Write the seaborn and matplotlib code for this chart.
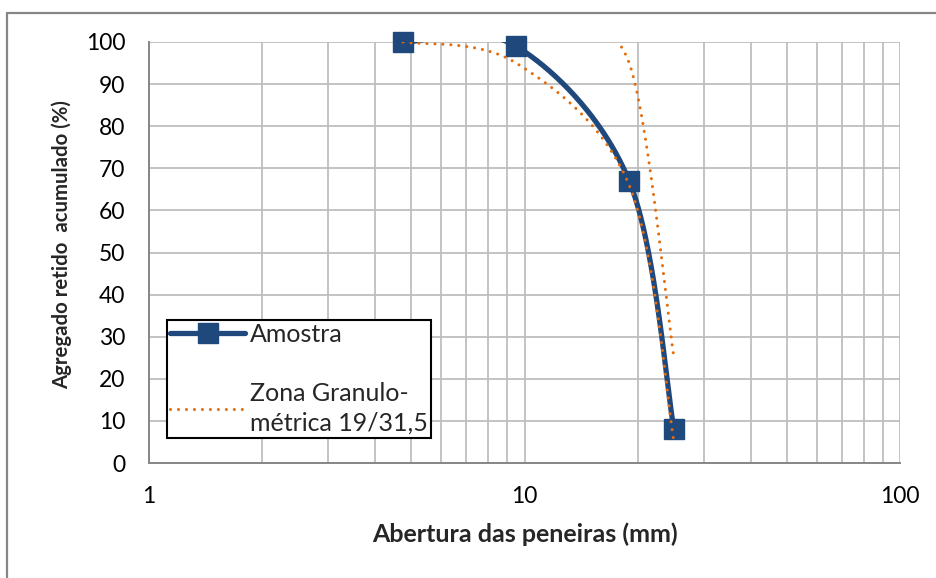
import numpy as np
import matplotlib
matplotlib.use("Agg")
import matplotlib.pyplot as plt
import seaborn as sns
import pandas as pd
from matplotlib.lines import Line2D
from matplotlib.patches import Rectangle
from matplotlib.ticker import FixedLocator, NullFormatter, FixedFormatter

# ---- data ----
sieve_sample = [4.75, 9.5, 19.0, 25.0]
retained_sample = [100, 99, 67, 8]
zone_lower_sieve = [4.75, 9.5, 19.0, 25.0]
zone_lower_retained = [100, 95, 66, 5]
zone_upper_sieve = [9.5, 12.5, 19.0, 25.0]
zone_upper_retained = [100, 100, 95, 25]
x_tick_values = [1, 10, 100]
x_tick_labels = ["1", "10", "100"]
y_tick_values = list(range(0, 101, 10))
series_names = ["Amostra", "Zona Granulo-\nmétrica 19/31,5"]

BLUE = "#1F497D"
ORANGE = "#E46C0A"
GRID = "#BEBEBE"
AXIS = "#868686"

sns.set_theme(style="white")
plt.rcParams["font.family"] = ["Lato", "DejaVu Sans"]

W, H = 936, 578
fig = plt.figure(figsize=(W / 100, H / 100), dpi=100)
left, right, top, bottom = 149, 900, 42, 463
ax = fig.add_axes([left / W, 1 - bottom / H, (right - left) / W, (bottom - top) / H])

PX_DEC = (right - left) / 2.0
PX_UNIT = (bottom - top) / 100.0


def smooth_curve(xs, ys, n=80):
    """Excel-like smoothed line (Catmull-Rom Bezier) in display-like space."""
    P = np.column_stack([np.log10(xs) * PX_DEC, np.asarray(ys, float) * PX_UNIT])
    out = []
    m = len(P)
    t = np.linspace(0, 1, n)[:, None]
    for i in range(m - 1):
        p0 = P[i - 1] if i > 0 else P[i]
        p3 = P[i + 2] if i + 2 < m else P[i + 1]
        b0, b3 = P[i], P[i + 1]
        b1 = b0 + (b3 - p0) / 6.0
        b2 = b3 - (p3 - b0) / 6.0
        seg = ((1 - t) ** 3) * b0 + 3 * ((1 - t) ** 2) * t * b1 + 3 * (1 - t) * t ** 2 * b2 + t ** 3 * b3
        out.append(seg if i == 0 else seg[1:])
    out = np.vstack(out)
    return 10 ** (out[:, 0] / PX_DEC), out[:, 1] / PX_UNIT


ax.set_xscale("log")
ax.set_xlim(1, 100)
ax.set_ylim(0, 100)

# grid
ax.xaxis.set_major_locator(FixedLocator(x_tick_values))
ax.xaxis.set_major_formatter(FixedFormatter(x_tick_labels))
minor = [m * d for d in (1, 10) for m in range(2, 10)]
ax.xaxis.set_minor_locator(FixedLocator(minor))
ax.xaxis.set_minor_formatter(NullFormatter())
ax.set_yticks(y_tick_values)
ax.grid(True, which="both", axis="x", color=GRID, lw=1.3)
ax.grid(True, which="major", axis="y", color=GRID, lw=1.3)
ax.set_axisbelow(True)

# zone lines (dotted), clipped by the plot area like the original
dot_kw = dict(color=ORANGE, lw=2.2, dashes=(0.01, 2.6), dash_capstyle="round")
cx, cy = smooth_curve(zone_upper_sieve, zone_upper_retained)
upper_line, = ax.plot(cx, cy, zorder=4, **dot_kw)
clip_rect = Rectangle((1, 0), 99, 99.55, transform=ax.transData)
upper_line.set_clip_path(clip_rect)

# sample line
sx, sy = smooth_curve(sieve_sample, retained_sample)
df_curve = pd.DataFrame({"x": sx, "y": sy})
sns.lineplot(data=df_curve, x="x", y="y", sort=False, estimator=None, ax=ax,
             color=BLUE, lw=3.8, zorder=3)
df_pts = pd.DataFrame({"x": sieve_sample, "y": retained_sample})
ax.plot(df_pts["x"], df_pts["y"], ls="none", marker="s", ms=14, color=BLUE, zorder=3, clip_on=False)
# orange dotted lower limit drawn over the sample
cx, cy = smooth_curve(zone_lower_sieve, zone_lower_retained)
ax.plot(cx, cy, zorder=5, **dot_kw)

# spines / ticks
for s in ("top", "right"):
    ax.spines[s].set_visible(False)
for s in ("left", "bottom"):
    ax.spines[s].set_color(AXIS)
    ax.spines[s].set_linewidth(1.4)
ax.tick_params(axis="both", which="both", direction="out", color=AXIS, width=1.2,
               labelsize=16.5, labelcolor="black")
ax.tick_params(axis="y", which="major", length=5, pad=12)
ax.tick_params(axis="x", which="major", length=5, pad=11.5)
ax.tick_params(axis="x", which="minor", length=5)

ax.set_xlabel("Abertura das peneiras (mm)", fontsize=18, fontweight="bold", labelpad=11.5)
ax.set_ylabel("Agregado retido  acumulado (%)", fontsize=14.7, fontweight="bold")
ax.yaxis.set_label_coords((72 - left) / (right - left), 0.52)

# legend
handles = [
    Line2D([], [], color=BLUE, lw=3.8, marker="s", ms=14, solid_capstyle="round"),
    Line2D([], [], **dot_kw),
]
leg = ax.legend(handles, series_names, loc="upper left",
                bbox_to_anchor=((167 - left) / (right - left), 1 - (320 - top) / (bottom - top)),
                frameon=True, fancybox=False, fontsize=18, handlelength=3.0,
                labelspacing=1.45, borderpad=0.12, handletextpad=0.2, borderaxespad=0)
leg.get_frame().set_edgecolor("black")
leg.get_frame().set_linewidth(1.5)
leg.get_frame().set_facecolor("white")
leg.get_frame().set_alpha(1)
for t in leg.get_texts():
    t.set_linespacing(1.33)

# outer chart border (top and left visible)
fig.add_artist(Line2D([7 / W, 7 / W], [0, 1 - 13 / H], transform=fig.transFigure, color=AXIS, lw=1.6))
fig.add_artist(Line2D([7 / W, 1], [1 - 13 / H, 1 - 13 / H], transform=fig.transFigure, color=AXIS, lw=1.6))

fig.savefig("out.png", dpi=100, facecolor="white")
